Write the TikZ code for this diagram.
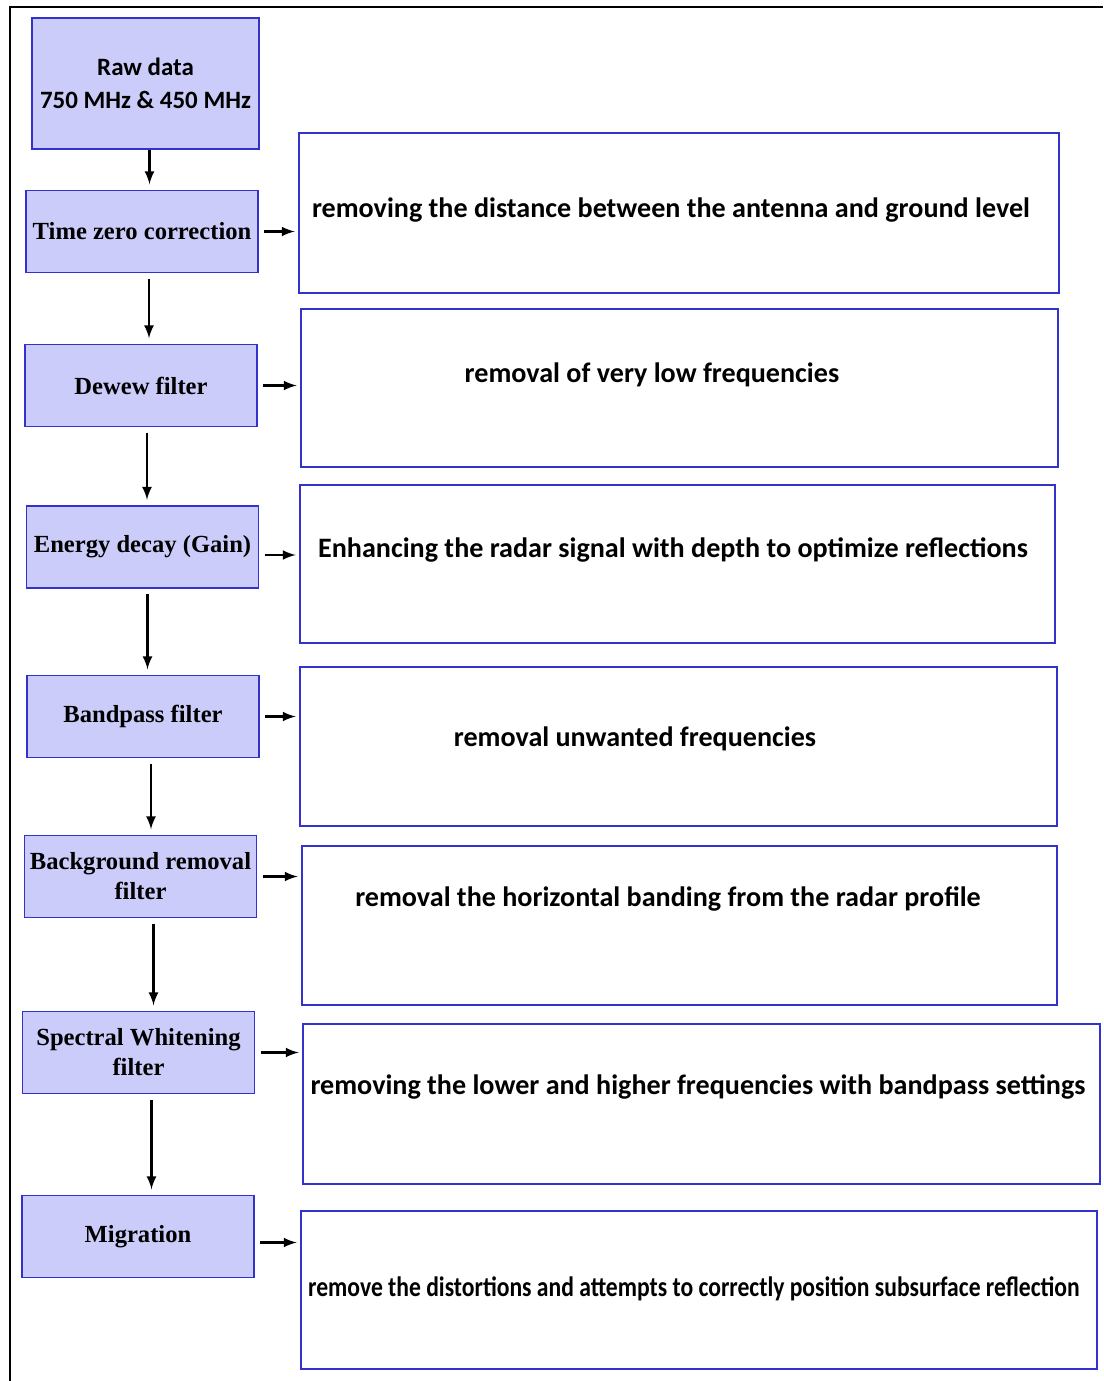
\documentclass[tikz,border=0pt]{standalone}
\usepackage{fontspec}
\setmainfont{Liberation Serif}
\newfontfamily\calfont{Carlito}
\usetikzlibrary{positioning,arrows}

\definecolor{boxblue}{RGB}{51,51,204}
\definecolor{boxfill}{RGB}{204,204,250}

\begin{document}
\begin{tikzpicture}[x=0.02cm,y=-0.02cm]
\tikzset{
  stepbox/.style={draw=boxblue, fill=boxfill, line width=1.1pt, minimum width=4.64cm,
    minimum height=1.64cm, inner sep=1pt, align=center,
    font=\fontsize{14}{17}\selectfont\bfseries},
  descbox/.style={draw=boxblue, line width=1.1pt, inner sep=0pt},
  desctext/.style={inner sep=0pt, font=\calfont\fontsize{16}{19}\selectfont\bfseries},
  flow/.style={->, >=latex, line width=1.5pt}
}
\useasboundingbox (0,0) rectangle (1103,1381);
% frame
\draw [line width=1.5pt] (1103,7) -- (10,7) -- (10,1381);

% processing steps
\node [stepbox, minimum width=4.54cm, minimum height=2.62cm,
  font=\calfont\fontsize{14.2}{19}\selectfont\bfseries] (raw) at (145.5,83.5) {Raw data\\ 750 MHz \& 450 MHz};
\node [stepbox] (tzero) at (142,231.5) {Time zero correction};
\node [stepbox] (dewow) at (141,385.5) {Dewew filter};
\node [stepbox] (gain) at (142.5,547) {Energy decay (Gain)};
\node [stepbox] (bpass) at (143,716.5) {Bandpass filter};
\node [stepbox] (bgrem) at (140.5,876.5) {Background removal\\ filter};
\node [stepbox] (swhite) at (138.5,1052.5) {Spectral Whitening\\ filter};
\node [stepbox] (migr) at (138,1236.5) {Migration};

% descriptions
\node [descbox, minimum width=15.2cm, minimum height=3.2cm] (dtzero) at (679,213) {};
\node [descbox, minimum width=15.14cm, minimum height=3.16cm] (ddewow) at (679.5,388) {};
\node [descbox, minimum width=15.1cm, minimum height=3.16cm] (dgain) at (677.5,564) {};
\node [descbox, minimum width=15.14cm, minimum height=3.18cm] (dbpass) at (678.5,746.5) {};
\node [descbox, minimum width=15.1cm, minimum height=3.18cm] (dbgrem) at (679.5,925.5) {};
\node [descbox, minimum width=15.94cm, minimum height=3.2cm] (dswhite) at (701.5,1104) {};
\node [descbox, minimum width=15.92cm, minimum height=3.16cm] (dmigr) at (699,1290) {};

\node [desctext] (ttzero) at (671,210) {removing the distance between the antenna and ground level};
\node [desctext] (tdewow) at (652,375) {removal of very low frequencies};
\node [desctext] (tgain) at (673,550) {Enhancing the radar signal with depth to optimize reflections};
\node [desctext] (tbpass) at (635,739) {removal unwanted frequencies};
\node [desctext] (tbgrem) at (668,899) {removal the horizontal banding from the radar profile};
\node [desctext] (tswhite) at (698,1087) {removing the lower and higher frequencies with bandpass settings};
\node [desctext] (tmigr) at (694,1289) {\scalebox{0.84}[1]{remove the distortions and attempts to correctly position subsurface reflection}};

% flow down
\draw [flow, shorten >=3pt] ([xshift=0.08cm]raw.south) -- ([xshift=0.08cm]raw.south |- tzero.north);
\draw [flow, shorten <=3pt, shorten >=3pt] ([xshift=0.14cm]tzero.south) -- ([xshift=0.14cm]tzero.south |- dewow.north);
\draw [flow, shorten <=3pt, shorten >=3pt] ([xshift=0.12cm]dewow.south) -- ([xshift=0.12cm]dewow.south |- gain.north);
\draw [flow, shorten <=3pt, shorten >=3pt] ([xshift=0.1cm]gain.south) -- ([xshift=0.1cm]gain.south |- bpass.north);
\draw [flow, shorten <=3pt, shorten >=3pt] ([xshift=0.16cm]bpass.south) -- ([xshift=0.16cm]bpass.south |- bgrem.north);
\draw [flow, shorten <=3pt, shorten >=3pt] ([xshift=0.26cm]bgrem.south) -- ([xshift=0.26cm]bgrem.south |- swhite.north);
\draw [flow, shorten <=3pt, shorten >=3pt] ([xshift=0.26cm]swhite.south) -- ([xshift=0.26cm]swhite.south |- migr.north);

% flow across
\draw [flow, shorten <=3pt, shorten >=2pt] (tzero.east) -- (tzero.east -| dtzero.west);
\draw [flow, shorten <=3pt, shorten >=2pt] (dewow.east) -- (dewow.east -| ddewow.west);
\draw [flow, shorten <=3pt, shorten >=2pt] ([yshift=-0.16cm]gain.east) -- ([yshift=-0.16cm]gain.east -| dgain.west);
\draw [flow, shorten <=3pt, shorten >=2pt] (bpass.east) -- (bpass.east -| dbpass.west);
\draw [flow, shorten <=3pt, shorten >=2pt] (bgrem.east) -- (bgrem.east -| dbgrem.west);
\draw [flow, shorten <=3pt, shorten >=2pt] (swhite.east) -- (swhite.east -| dswhite.west);
\draw [flow, shorten <=3pt, shorten >=2pt] ([yshift=-0.12cm]migr.east) -- ([yshift=-0.12cm]migr.east -| dmigr.west);
\end{tikzpicture}
\end{document}
